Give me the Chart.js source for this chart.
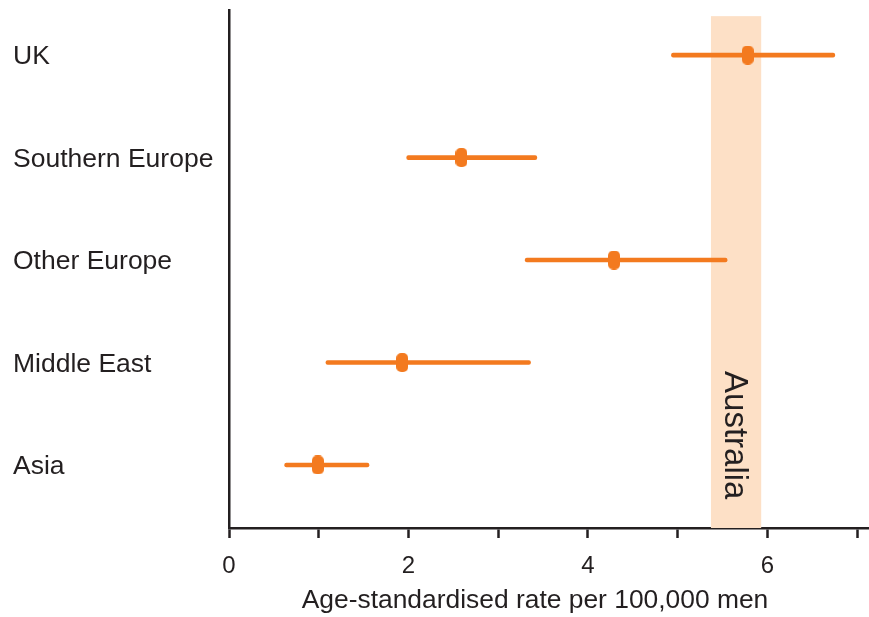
<!DOCTYPE html>
<html lang="en">
<head>
<meta charset="UTF-8">
<title>Age-standardised rate by region of birth</title>
<script src="https://cdn.jsdelivr.net/npm/chart.js"></script>
<style>
  html, body { margin: 0; padding: 0; background: #fff; }
</style>
</head>
<body>
<canvas id="chart" width="869" height="617"></canvas>
<script>
// rows, top to bottom
const regions = ['UK', 'Southern Europe', 'Other Europe', 'Middle East', 'Asia'];
const rateLow = [4.93, 1.98, 3.30, 1.08, 0.62];
const rateMid = [5.78, 2.59, 4.29, 1.93, 0.99];
const rateHigh = [6.75, 3.43, 5.55, 3.36, 1.56];

// shaded reference range for Australia
const australiaRange = [5.37, 5.93];

// every integer gets a tick mark, only even ones get a label
const xTickLabels = {0: '0', 2: '2', 4: '4', 6: '6'};

const ORANGE = '#f37a1f';
const BAND = '#fde0c6';
const INK = '#231f20';
const FONT = '"Liberation Sans", Arial, sans-serif';

Chart.defaults.font.family = FONT;
Chart.defaults.color = INK;

// rounded rectangle used as the point marker
function makeMarker() {
    const c = document.createElement('canvas');
    c.width = 12;
    c.height = 19;
    const g = c.getContext('2d');
    g.fillStyle = ORANGE;
    g.beginPath();
    g.roundRect(0, 0, 12, 19, 5);
    g.fill();
    return c;
}

// band + label + axis title
const extras = {
    id: 'extras',
    beforeDatasetsDraw(chart) {
        const {ctx, chartArea, scales: {x, y}} = chart;
        const left = x.getPixelForValue(australiaRange[0]);
        const right = x.getPixelForValue(australiaRange[1]);
        const top = y.getPixelForValue(-0.38);
        ctx.save();
        ctx.fillStyle = BAND;
        ctx.fillRect(left, top, right - left, chartArea.bottom - top);
        ctx.restore();
    },
    afterDatasetsDraw(chart) {
        const {ctx, scales: {x, y}} = chart;
        const mid = (x.getPixelForValue(australiaRange[0]) + x.getPixelForValue(australiaRange[1])) / 2;
        ctx.save();
        ctx.font = '33px ' + FONT;
        ctx.fillStyle = INK;
        ctx.translate(mid - 11, y.getPixelForValue(3.71));
        ctx.rotate(Math.PI / 2);
        ctx.textAlign = 'center';
        ctx.textBaseline = 'alphabetic';
        ctx.fillText('Australia', 0, 0);
        ctx.restore();
    },
    afterDraw(chart) {
        const {ctx} = chart;
        ctx.save();
        ctx.font = '26.4px ' + FONT;
        ctx.fillStyle = INK;
        ctx.textAlign = 'center';
        ctx.textBaseline = 'middle';
        ctx.fillText('Age-standardised rate per 100,000 men', 535, 601);
        ctx.restore();
    }
};

new Chart(document.getElementById('chart'), {
    data: {
        datasets: [
            {
                type: 'scatter',
                data: regions.map((r, i) => ({x: rateMid[i], y: i})),
                pointStyle: makeMarker(),
                pointRadius: 8,
                order: 0
            },
            {
                type: 'bar',
                indexAxis: 'y',
                data: regions.map((r, i) => ({x: [rateLow[i], rateHigh[i]], y: i})),
                backgroundColor: ORANGE,
                barThickness: 4,
                borderRadius: 2,
                borderSkipped: false,
                order: 1
            }
        ]
    },
    options: {
        responsive: false,
        animation: false,
        layout: {autoPadding: false, padding: {left: 13, top: 10, right: 1, bottom: 0}},
        plugins: {legend: {display: false}, tooltip: {enabled: false}},
        scales: {
            x: {
                type: 'linear',
                position: 'bottom',
                offset: false,
                min: 0,
                max: 7.12,
                afterFit: s => { s.height = 89; s.paddingLeft = 0; s.paddingRight = 0; },
                ticks: {
                    stepSize: 1,
                    includeBounds: false,
                    font: {size: 24},
                    padding: 14,
                    maxRotation: 0,
                    autoSkip: false,
                    callback: v => xTickLabels[v] ?? ''
                },
                grid: {
                    offset: false,
                    drawOnChartArea: false,
                    drawTicks: true,
                    tickLength: 10,
                    tickWidth: 2.5,
                    tickColor: INK
                },
                border: {display: true, color: INK, width: 2.5}
            },
            y: {
                type: 'linear',
                position: 'left',
                reverse: true,
                offset: false,
                min: -0.44,
                max: 4.615,
                afterFit: s => { s.width = 216; s.paddingTop = 0; s.paddingBottom = 0; },
                ticks: {
                    stepSize: 1,
                    includeBounds: false,
                    font: {size: 26.5},
                    crossAlign: 'far',
                    labelOffset: 2,
                    autoSkip: false,
                    callback: v => regions[v] ?? ''
                },
                grid: {display: false, offset: false},
                border: {display: true, color: INK, width: 2.5}
            }
        }
    },
    plugins: [extras]
});
</script>
</body>
</html>
